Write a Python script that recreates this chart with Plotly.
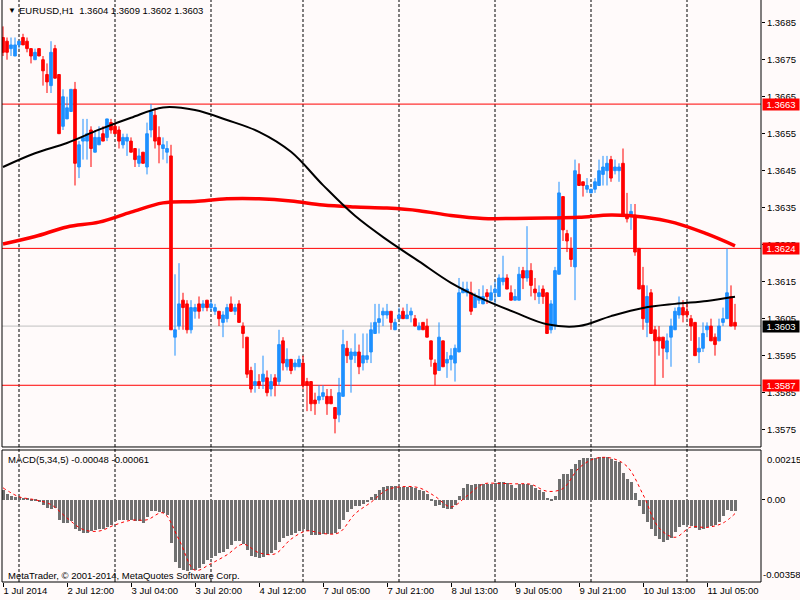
import pandas as pd
import plotly.graph_objects as go

# hourly bars, EURUSD H1 (weekend gap between 4 Jul and 7 Jul)
times = list(pd.date_range("2014-07-01 20:00", "2014-07-04 22:00", freq="h")) + \
        list(pd.date_range("2014-07-07 00:00", "2014-07-11 12:00", freq="h"))
bars = [t.strftime("%Y-%m-%d %H:%M") for t in times]

open_ = [
    1.3681, 1.3680, 1.3678, 1.3676, 1.3679, 1.3681, 1.3680, 1.3678, 1.3675, 1.3678,
    1.3675, 1.3671, 1.3668, 1.3678, 1.3671, 1.3657, 1.3659, 1.3661, 1.3667, 1.3646,
    1.3653, 1.3653, 1.3656, 1.3650, 1.3652, 1.3655, 1.3654, 1.3658, 1.3657, 1.3656,
    1.3652, 1.3653, 1.3653, 1.3651, 1.3647, 1.3650, 1.3646, 1.3656, 1.3660, 1.3654,
    1.3651, 1.3650, 1.3649, 1.3600, 1.3603, 1.3610, 1.3609, 1.3602, 1.3607, 1.3609,
    1.3608, 1.3610, 1.3608, 1.3607, 1.3607, 1.3604, 1.3605, 1.3609, 1.3607, 1.3609,
    1.3603, 1.3600, 1.3591, 1.3587, 1.3588, 1.3588, 1.3589, 1.3586, 1.3589, 1.3588,
    1.3599, 1.3592, 1.3594, 1.3592, 1.3592, 1.3593, 1.3588, 1.3588, 1.3583, 1.3583,
    1.3584, 1.3584, 1.3584, 1.3581, 1.3579, 1.3584, 1.3597, 1.3594, 1.3595, 1.3596,
    1.3593, 1.3594, 1.3596, 1.3601, 1.3604, 1.3606, 1.3606, 1.3607, 1.3602, 1.3605,
    1.3607, 1.3605, 1.3606, 1.3605, 1.3602, 1.3604, 1.3603, 1.3599, 1.3593, 1.3591,
    1.3599, 1.3593, 1.3594, 1.3593, 1.3596, 1.3612, 1.3612, 1.3612, 1.3608, 1.3610,
    1.3609, 1.3612, 1.3610, 1.3612, 1.3611, 1.3615, 1.3616, 1.3612, 1.3610, 1.3610,
    1.3618, 1.3616, 1.3618, 1.3613, 1.3611, 1.3613, 1.3612, 1.3602, 1.3603, 1.3617,
    1.3638, 1.3628, 1.3624, 1.3619, 1.3644, 1.3642, 1.3640, 1.3639, 1.3640, 1.3641,
    1.3644, 1.3645, 1.3648, 1.3645, 1.3645, 1.3647, 1.3633, 1.3633, 1.3633, 1.3624,
    1.3614, 1.3604, 1.3612, 1.3602, 1.3600, 1.3600, 1.3596, 1.3600, 1.3602, 1.3606,
    1.3608, 1.3607, 1.3605, 1.3604, 1.3596, 1.3597, 1.3602, 1.3603, 1.3600, 1.3599,
    1.3604, 1.3605, 1.3611, 1.3604,
]
high = [
    1.3684, 1.3681, 1.3681, 1.3681, 1.3680, 1.3682, 1.3681, 1.3678, 1.3678, 1.3678,
    1.3676, 1.3674, 1.3680, 1.3679, 1.3671, 1.3667, 1.3665, 1.3667, 1.3669, 1.3653,
    1.3659, 1.3659, 1.3657, 1.3656, 1.3657, 1.3657, 1.3659, 1.3659, 1.3658, 1.3657,
    1.3655, 1.3655, 1.3654, 1.3651, 1.3651, 1.3650, 1.3658, 1.3663, 1.3662, 1.3657,
    1.3654, 1.3653, 1.3652, 1.3617, 1.3620, 1.3612, 1.3610, 1.3610, 1.3609, 1.3611,
    1.3610, 1.3610, 1.3610, 1.3609, 1.3607, 1.3607, 1.3609, 1.3611, 1.3609, 1.3610,
    1.3604, 1.3600, 1.3592, 1.3593, 1.3590, 1.3595, 1.3591, 1.3590, 1.3590, 1.3602,
    1.3600, 1.3597, 1.3594, 1.3594, 1.3595, 1.3595, 1.3589, 1.3588, 1.3585, 1.3587,
    1.3587, 1.3586, 1.3586, 1.3581, 1.3589, 1.3602, 1.3599, 1.3597, 1.3601, 1.3598,
    1.3601, 1.3601, 1.3604, 1.3609, 1.3609, 1.3608, 1.3609, 1.3607, 1.3605, 1.3608,
    1.3608, 1.3609, 1.3608, 1.3606, 1.3604, 1.3604, 1.3605, 1.3599, 1.3594, 1.3604,
    1.3599, 1.3596, 1.3597, 1.3598, 1.3616, 1.3615, 1.3615, 1.3615, 1.3612, 1.3613,
    1.3614, 1.3613, 1.3614, 1.3615, 1.3617, 1.3622, 1.3617, 1.3614, 1.3613, 1.3619,
    1.3619, 1.3630, 1.3620, 1.3616, 1.3614, 1.3614, 1.3612, 1.3610, 1.3619, 1.3642,
    1.3638, 1.3629, 1.3627, 1.3648, 1.3647, 1.3642, 1.3643, 1.3640, 1.3643, 1.3648,
    1.3649, 1.3649, 1.3649, 1.3648, 1.3647, 1.3651, 1.3639, 1.3636, 1.3636, 1.3624,
    1.3619, 1.3614, 1.3613, 1.3603, 1.3603, 1.3600, 1.3601, 1.3605, 1.3608, 1.3611,
    1.3610, 1.3609, 1.3606, 1.3604, 1.3600, 1.3604, 1.3604, 1.3605, 1.3601, 1.3605,
    1.3608, 1.3624, 1.3614, 1.3609,
]
low = [
    1.3676, 1.3675, 1.3676, 1.3676, 1.3678, 1.3679, 1.3677, 1.3674, 1.3675, 1.3676,
    1.3668, 1.3666, 1.3666, 1.3670, 1.3655, 1.3656, 1.3659, 1.3661, 1.3641, 1.3643,
    1.3648, 1.3648, 1.3646, 1.3650, 1.3652, 1.3653, 1.3653, 1.3655, 1.3655, 1.3651,
    1.3651, 1.3649, 1.3650, 1.3646, 1.3646, 1.3647, 1.3644, 1.3654, 1.3651, 1.3647,
    1.3648, 1.3647, 1.3602, 1.3595, 1.3602, 1.3602, 1.3601, 1.3601, 1.3605, 1.3605,
    1.3607, 1.3607, 1.3607, 1.3606, 1.3603, 1.3600, 1.3604, 1.3607, 1.3606, 1.3604,
    1.3597, 1.3589, 1.3585, 1.3585, 1.3586, 1.3586, 1.3584, 1.3584, 1.3584, 1.3587,
    1.3591, 1.3591, 1.3590, 1.3591, 1.3592, 1.3586, 1.3580, 1.3580, 1.3579, 1.3582,
    1.3583, 1.3579, 1.3582, 1.3574, 1.3577, 1.3584, 1.3593, 1.3585, 1.3593, 1.3590,
    1.3591, 1.3593, 1.3593, 1.3601, 1.3601, 1.3603, 1.3605, 1.3602, 1.3602, 1.3605,
    1.3605, 1.3605, 1.3604, 1.3603, 1.3602, 1.3602, 1.3600, 1.3592, 1.3587, 1.3591,
    1.3592, 1.3589, 1.3591, 1.3588, 1.3596, 1.3612, 1.3611, 1.3606, 1.3608, 1.3609,
    1.3609, 1.3609, 1.3610, 1.3609, 1.3611, 1.3614, 1.3613, 1.3610, 1.3610, 1.3610,
    1.3613, 1.3615, 1.3611, 1.3610, 1.3609, 1.3609, 1.3601, 1.3601, 1.3602, 1.3617,
    1.3626, 1.3623, 1.3619, 1.3610, 1.3641, 1.3638, 1.3639, 1.3639, 1.3639, 1.3641,
    1.3641, 1.3641, 1.3642, 1.3644, 1.3642, 1.3633, 1.3631, 1.3629, 1.3622, 1.3613,
    1.3602, 1.3600, 1.3601, 1.3587, 1.3595, 1.3589, 1.3594, 1.3592, 1.3602, 1.3605,
    1.3604, 1.3605, 1.3599, 1.3595, 1.3593, 1.3596, 1.3600, 1.3599, 1.3595, 1.3599,
    1.3603, 1.3605, 1.3603, 1.3602,
]
close = [
    1.3677, 1.3677, 1.3679, 1.3679, 1.3680, 1.3679, 1.3678, 1.3676, 1.3677, 1.3676,
    1.3672, 1.3669, 1.3677, 1.3670, 1.3655, 1.3665, 1.3662, 1.3667, 1.3647, 1.3652,
    1.3654, 1.3655, 1.3651, 1.3654, 1.3654, 1.3653, 1.3659, 1.3656, 1.3655, 1.3653,
    1.3654, 1.3654, 1.3650, 1.3648, 1.3649, 1.3647, 1.3655, 1.3661, 1.3653, 1.3652,
    1.3652, 1.3651, 1.3602, 1.3602, 1.3609, 1.3608, 1.3602, 1.3608, 1.3608, 1.3607,
    1.3609, 1.3608, 1.3609, 1.3608, 1.3605, 1.3606, 1.3608, 1.3607, 1.3608, 1.3604,
    1.3601, 1.3590, 1.3586, 1.3588, 1.3587, 1.3590, 1.3585, 1.3588, 1.3587, 1.3598,
    1.3593, 1.3594, 1.3591, 1.3593, 1.3594, 1.3587, 1.3587, 1.3582, 1.3582, 1.3584,
    1.3585, 1.3582, 1.3582, 1.3578, 1.3585, 1.3598, 1.3595, 1.3596, 1.3596, 1.3592,
    1.3595, 1.3595, 1.3602, 1.3604, 1.3605, 1.3607, 1.3607, 1.3604, 1.3604, 1.3606,
    1.3605, 1.3606, 1.3607, 1.3603, 1.3603, 1.3602, 1.3600, 1.3594, 1.3590, 1.3600,
    1.3592, 1.3594, 1.3595, 1.3597, 1.3612, 1.3613, 1.3613, 1.3607, 1.3611, 1.3611,
    1.3611, 1.3611, 1.3612, 1.3613, 1.3616, 1.3616, 1.3613, 1.3610, 1.3611, 1.3617,
    1.3616, 1.3618, 1.3614, 1.3612, 1.3612, 1.3611, 1.3601, 1.3609, 1.3618, 1.3639,
    1.3629, 1.3626, 1.3621, 1.3645, 1.3641, 1.3641, 1.3641, 1.3640, 1.3642, 1.3645,
    1.3646, 1.3647, 1.3643, 1.3646, 1.3646, 1.3633, 1.3632, 1.3634, 1.3623, 1.3613,
    1.3605, 1.3611, 1.3601, 1.3599, 1.3599, 1.3597, 1.3599, 1.3603, 1.3607, 1.3608,
    1.3606, 1.3606, 1.3603, 1.3595, 1.3597, 1.3601, 1.3603, 1.3599, 1.3598, 1.3603,
    1.3605, 1.3612, 1.3603, 1.3603,
]

# moving averages every 8 bars (plus the last bar)
ma_at = bars[::8] + [bars[-1]]
ma_black = [1.36460, 1.36497, 1.36525, 1.36561, 1.36593, 1.36621, 1.36614, 1.36587,
            1.36555, 1.36501, 1.36411, 1.36328, 1.36263, 1.36205, 1.36147, 1.36103,
            1.36067, 1.36035, 1.36030, 1.36057, 1.36079, 1.36090, 1.36098, 1.36109]
ma_red = [1.36252, 1.36272, 1.36298, 1.36311, 1.36338, 1.36363, 1.36367, 1.36374,
          1.36374, 1.36368, 1.36357, 1.36352, 1.36349, 1.36342, 1.36329, 1.36321,
          1.36321, 1.36322, 1.36324, 1.36330, 1.36325, 1.36309, 1.36279, 1.36247]

# horizontal levels
levels = [1.3663, 1.3624, 1.3587]

# MACD(5,34,5) histogram, one value per bar
macd = [
    0.00041, 0.00022, 0.00014, 0.00012, 0.00009, 0.00006, 0.00003, -0.00004, -0.00007, -0.00010,
    -0.00022, -0.00036, -0.00041, -0.00036, -0.00087, -0.00101, -0.00101, -0.00094, -0.00127, -0.00137,
    -0.00145, -0.00145, -0.00137, -0.00133, -0.00130, -0.00127, -0.00119, -0.00109, -0.00094, -0.00090,
    -0.00087, -0.00087, -0.00090, -0.00094, -0.00094, -0.00101, -0.00075, -0.00051, -0.00051, -0.00055,
    -0.00058, -0.00069, -0.00188, -0.00272, -0.00297, -0.00308, -0.00311, -0.00308, -0.00304, -0.00297,
    -0.00278, -0.00263, -0.00255, -0.00243, -0.00234, -0.00227, -0.00214, -0.00197, -0.00181, -0.00181,
    -0.00191, -0.00217, -0.00243, -0.00249, -0.00252, -0.00249, -0.00240, -0.00232, -0.00221, -0.00185,
    -0.00168, -0.00159, -0.00152, -0.00145, -0.00135, -0.00129, -0.00135, -0.00152, -0.00155, -0.00155,
    -0.00150, -0.00148, -0.00148, -0.00145, -0.00130, -0.00087, -0.00055, -0.00041, -0.00029, -0.00026,
    -0.00020, -0.00010, 0.00012, 0.00026, 0.00041, 0.00054, 0.00058, 0.00058, 0.00058, 0.00055,
    0.00054, 0.00054, 0.00054, 0.00051, 0.00043, 0.00036, 0.00022, -0.00004, -0.00029, -0.00022,
    -0.00036, -0.00041, -0.00041, -0.00022, 0.00017, 0.00048, 0.00069, 0.00062, 0.00069, 0.00069,
    0.00069, 0.00069, 0.00069, 0.00072, 0.00077, 0.00077, 0.00072, 0.00062, 0.00051, 0.00069,
    0.00069, 0.00069, 0.00065, 0.00051, 0.00043, 0.00033, 0.00007, -0.00006, 0.00017, 0.00090,
    0.00113, 0.00113, 0.00133, 0.00155, 0.00171, 0.00181, 0.00181, 0.00181, 0.00181, 0.00184,
    0.00184, 0.00185, 0.00178, 0.00169, 0.00162, 0.00116, 0.00090, 0.00075, 0.00029, -0.00026,
    -0.00061, -0.00098, -0.00130, -0.00159, -0.00171, -0.00185, -0.00174, -0.00166, -0.00142, -0.00120,
    -0.00109, -0.00109, -0.00113, -0.00123, -0.00133, -0.00127, -0.00119, -0.00113, -0.00109, -0.00098,
    -0.00072, -0.00046, -0.00048, -0.00048,
]
# signal line, read every 4 bars (plus the last bar)
sig_at = bars[::4] + [bars[-1]]
signal = [0.00051, 0.00012, -0.00001, -0.00022, -0.00080, -0.00130, -0.00137, -0.00110,
          -0.00090, -0.00088, -0.00058, -0.00174, -0.00307, -0.00278, -0.00240, -0.00194,
          -0.00231, -0.00236, -0.00172, -0.00136, -0.00148, -0.00144, -0.00062, -0.00012,
          0.00042, 0.00056, 0.00051, 0.00014, -0.00032, 0.00016, 0.00067, 0.00070,
          0.00068, 0.00066, 0.00036, 0.00048, 0.00137, 0.00178, 0.00180, 0.00144,
          0.00022, -0.00123, -0.00164, -0.00119, -0.00121, -0.00102, -0.00061]

# axis labels
tick_at = ["2014-07-01 20:00", "2014-07-02 12:00", "2014-07-03 04:00", "2014-07-03 20:00",
           "2014-07-04 12:00", "2014-07-07 05:00", "2014-07-07 21:00", "2014-07-08 13:00",
           "2014-07-09 05:00", "2014-07-09 21:00", "2014-07-10 13:00", "2014-07-11 05:00"]
tick_text = ["1 Jul 2014", "2 Jul 12:00", "3 Jul 04:00", "3 Jul 20:00", "4 Jul 12:00",
             "7 Jul 05:00", "7 Jul 21:00", "8 Jul 13:00", "9 Jul 05:00", "9 Jul 21:00",
             "10 Jul 13:00", "11 Jul 05:00"]
day_starts = ["2014-07-02 00:00", "2014-07-03 00:00", "2014-07-04 00:00", "2014-07-07 00:00",
              "2014-07-08 00:00", "2014-07-09 00:00", "2014-07-10 00:00", "2014-07-11 00:00"]
price_ticks = [1.3575, 1.3585, 1.3595, 1.3605, 1.3615, 1.3625, 1.3635, 1.3645,
               1.3655, 1.3665, 1.3675, 1.3685]

RED = "#FF0000"
BLUE = "#1E90FF"
BG = "#FFFAFA"
FONT = "Liberation Sans"
FS = 9.5

fig = go.Figure()
fig.add_trace(go.Candlestick(
    x=bars, open=open_, high=high, low=low, close=close,
    increasing=dict(line=dict(color=BLUE, width=1), fillcolor=BLUE),
    decreasing=dict(line=dict(color=RED, width=1), fillcolor=RED),
    whiskerwidth=0, xaxis="x", yaxis="y", hoverinfo="skip"))
fig.add_trace(go.Scatter(x=ma_at, y=ma_red, mode="lines", xaxis="x", yaxis="y",
                         line=dict(color=RED, width=3.5, shape="spline")))
fig.add_trace(go.Scatter(x=ma_at, y=ma_black, mode="lines", xaxis="x", yaxis="y",
                         line=dict(color="black", width=2, shape="spline")))
fig.add_trace(go.Bar(x=bars, y=macd, marker_color="#707070", marker_line_width=0,
                     width=0.75, xaxis="x2", yaxis="y2"))
fig.add_trace(go.Scatter(x=sig_at, y=signal, mode="lines", xaxis="x2", yaxis="y2",
                         line=dict(color=RED, width=1, dash="dot", shape="spline")))

shapes = []
for d in day_starts:
    shapes.append(dict(type="line", xref="x", yref="paper", x0=d, x1=d, y0=0, y1=1,
                       line=dict(color="black", width=1, dash="3px,2px"), layer="below"))
for lv in levels:
    shapes.append(dict(type="line", xref="paper", yref="y", x0=0, x1=1, y0=lv, y1=lv,
                       line=dict(color=RED, width=1), layer="below"))
shapes.append(dict(type="line", xref="paper", yref="y", x0=0, x1=1, y0=close[-1], y1=close[-1],
                   line=dict(color="#C0C0C0", width=1), layer="below"))
# panel frames
MAIN_BOT, MACD_TOP = 0.232, 0.2268
for x0, y0, x1, y1 in [(0, MAIN_BOT, 0, 1), (1, MAIN_BOT, 1, 1), (0, MAIN_BOT, 1, MAIN_BOT),
                       (0, 0, 1, 0), (0, MACD_TOP, 1, MACD_TOP), (0, 0, 0, MACD_TOP), (1, 0, 1, MACD_TOP)]:
    shapes.append(dict(type="line", xref="paper", yref="paper", x0=x0, x1=x1, y0=y0, y1=y1,
                       line=dict(color="black", width=1)))

ann = []
ann.append(dict(text="▼", xref="paper", yref="paper", x=0, y=1, xanchor="left", yanchor="middle",
                xshift=4, yshift=-10, showarrow=False, font=dict(size=8, color="black")))
ann.append(dict(text="EURUSD,H1  %.4f %.4f %.4f %.4f" % (open_[-1], high[-1], low[-1], close[-1]),
                xref="paper", yref="paper", x=0, y=1, xanchor="left", yanchor="middle",
                xshift=15, yshift=-10, showarrow=False, font=dict(size=FS, color="black")))
ann.append(dict(text="MACD(5,34,5) %.5f %.5f" % (macd[-1], signal[-1]),
                xref="paper", yref="paper", x=0, y=MACD_TOP, xanchor="left", yanchor="middle",
                xshift=4, yshift=-9, showarrow=False, font=dict(size=FS, color="black")))
ann.append(dict(text="MetaTrader, © 2001-2014, MetaQuotes Software Corp.",
                xref="paper", yref="paper", x=0, y=0, xanchor="left", yanchor="middle",
                xshift=4, yshift=7, showarrow=False, font=dict(size=FS, color="black")))
for lv, col in [(levels[0], RED), (levels[1], RED), (levels[2], RED), (close[-1], "black")]:
    ann.append(dict(text="%.4f" % lv, xref="paper", yref="y", x=1, y=lv, xanchor="left",
                    yanchor="middle", xshift=1, showarrow=False, bgcolor=col, width=34, height=9,
                    borderpad=1, font=dict(size=FS, color="white")))
ann.append(dict(text="0.00215", xref="paper", yref="y2", x=1, y=0.00215, xanchor="left",
                yanchor="top", xshift=4, yshift=-2, showarrow=False, font=dict(size=FS, color="black")))
ann.append(dict(text="-0.00358", xref="paper", yref="y2", x=1, y=-0.00358, xanchor="left",
                yanchor="bottom", xshift=0, yshift=0, showarrow=False, font=dict(size=FS, color="black")))

fig.update_layout(
    width=800, height=600,
    margin=dict(l=2, r=39, t=0, b=18),
    paper_bgcolor=BG, plot_bgcolor=BG,
    font=dict(family=FONT, size=FS, color="black"),
    showlegend=False,
    boxgap=0.35, boxgroupgap=0, bargap=0,
    shapes=shapes, annotations=ann,
    xaxis=dict(type="category", categoryorder="array", categoryarray=bars, domain=[0, 1],
               anchor="y", range=[-0.25, 189.5], showticklabels=False, showgrid=False,
               zeroline=False, rangeslider=dict(visible=False), fixedrange=True),
    xaxis2=dict(type="category", categoryorder="array", categoryarray=bars, domain=[0, 1],
                anchor="y2", range=[-0.25, 189.5], tickvals=tick_at, ticktext=tick_text,
                ticks="outside", ticklen=4, tickcolor="black", ticklabelposition="outside right",
                showgrid=False, zeroline=False, tickfont=dict(size=FS)),
    yaxis=dict(domain=[MAIN_BOT, 1], range=[1.357032, 1.369114], side="right", anchor="x",
               tickvals=price_ticks, ticktext=["%.4f" % p for p in price_ticks],
               ticks="outside", ticklen=3, tickcolor="black", showgrid=False, zeroline=False),
    yaxis2=dict(domain=[0, MACD_TOP], range=[-0.00358, 0.00215], side="right", anchor="x2",
                tickvals=[0], ticktext=["0.00"], ticks="outside", ticklen=3, tickcolor="black",
                showgrid=False, zeroline=False),
)

# the page's default body margin would push the 800x600 figure out of the window
fig.write_html("out.html", config={"displayModeBar": False},
               post_script="document.body.style.margin='0';")
